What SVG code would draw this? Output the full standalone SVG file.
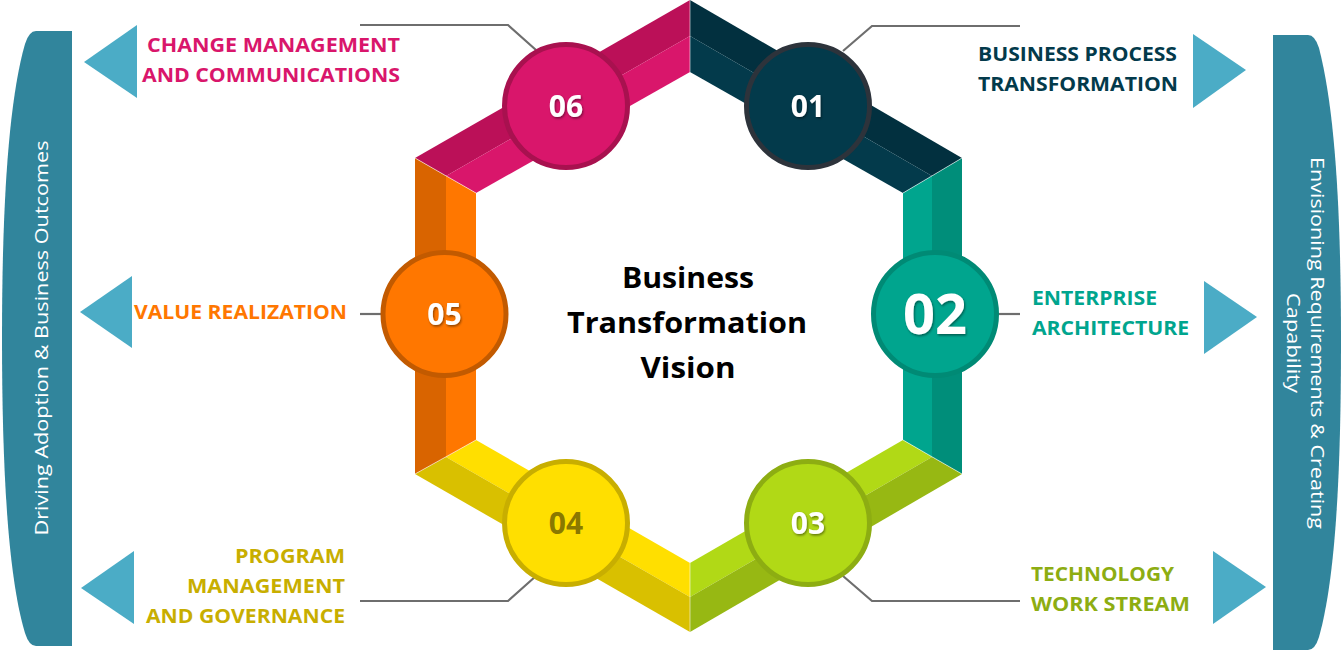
<svg xmlns="http://www.w3.org/2000/svg" width="1344" height="651" viewBox="0 0 1344 651">
<defs>
<style>
.lbl{font-family:"Open Sans","Liberation Sans",sans-serif;font-weight:bold;font-size:20px}
.num{font-family:"Open Sans","Liberation Sans",sans-serif;font-weight:bold;font-size:30px;text-anchor:middle;fill:#fff}
.ctr{font-family:"Open Sans","Liberation Sans",sans-serif;font-weight:bold;font-size:28px;text-anchor:middle;fill:#000}
.side{font-family:"Open Sans","Liberation Sans",sans-serif;font-size:18px;fill:#fff;text-anchor:middle}
.tri{fill:#4BACC6}
.bar{fill:#31859C}
.conn{fill:none;stroke:#6E6E6E;stroke-width:2.2}
.seam{stroke:#ffffff;stroke-width:0.8;stroke-opacity:0.7}
</style>
<filter id="sh" x="-20%" y="-20%" width="140%" height="140%">
<feDropShadow dx="1" dy="1.5" stdDeviation="1" flood-color="#000" flood-opacity="0.45"/>
</filter>
</defs>
<rect width="1344" height="651" fill="#fff"/>

<g id="left-bar">
<path class="bar" d="M72,31 H36 Q29,31 25,44 C9,100 2,200 2,338 C2,480 9,580 25,633 Q29,646 36,646 H72 Z"/>
<text class="side" transform="translate(42,338) rotate(-90)" x="0" y="6" textLength="395" lengthAdjust="spacingAndGlyphs">Driving Adoption &amp; Business Outcomes</text>
</g>
<g id="right-bar">
<path class="bar" d="M1273,35 H1308 Q1315,35 1319,48 C1335,110 1341,210 1341,342 C1341,480 1335,580 1319,637 Q1315,650 1308,650 H1273 Z"/>
<text class="side" transform="translate(1311,343) rotate(90)" x="0" y="0" textLength="372" lengthAdjust="spacingAndGlyphs">Envisioning Requirements &amp; Creating</text>
<text class="side" transform="translate(1311,343) rotate(90)" x="0" y="24" textLength="100" lengthAdjust="spacingAndGlyphs">Capability</text>
</g>

<g id="arrows">
<polygon class="tri" points="84,62 137,25 137,98"/>
<polygon class="tri" points="80,312 132,276 132,348"/>
<polygon class="tri" points="81,588 134,551 134,624"/>
<polygon class="tri" points="1193,34 1193,108 1246,70"/>
<polygon class="tri" points="1204,281 1204,354 1257,317"/>
<polygon class="tri" points="1213,551 1213,624 1266,587"/>
</g>

<g id="hexagon">
<polygon fill="#BB1058" points="415,158 690,0 690,36 446,176"/>
<polygon fill="#D9166B" points="446,176 690,36 690,72 476,193"/>
<polygon fill="#02303F" points="690,0 962,158 932,176 690,36"/>
<polygon fill="#033A4B" points="690,36 932,176 903,193 690,72"/>
<polygon fill="#00A58E" points="903,193 932,176 932,457 903,440"/>
<polygon fill="#008E7A" points="932,176 962,158 962,474 932,457"/>
<polygon fill="#B1D916" points="903,440 932,457 690,597 690,563"/>
<polygon fill="#97B813" points="932,457 962,474 690,632 690,597"/>
<polygon fill="#FFDF00" points="690,563 476,440 446,457 690,597"/>
<polygon fill="#D9C000" points="690,597 446,457 415,474 690,632"/>
<polygon fill="#D96400" points="415,158 446,176 446,457 415,474"/>
<polygon fill="#FF7700" points="446,176 476,193 476,440 446,457"/>
<line class="seam" x1="690" y1="0" x2="690" y2="72"/>
<line class="seam" x1="962" y1="158" x2="903" y2="193"/>
<line class="seam" x1="962" y1="474" x2="903" y2="440"/>
<line class="seam" x1="690" y1="563" x2="690" y2="632"/>
<line class="seam" x1="415" y1="474" x2="476" y2="440"/>
<line class="seam" x1="415" y1="158" x2="476" y2="193"/>
</g>

<g id="connectors">
<polyline class="conn" points="360,25 508,25 536,50"/>
<polyline class="conn" points="1020,26 872,26 843,51"/>
<line class="conn" x1="998" y1="314" x2="1020" y2="314"/>
<line class="conn" x1="360" y1="314" x2="382" y2="314"/>
<polyline class="conn" points="360,601 508,601 536,576"/>
<polyline class="conn" points="1020,601 872,601 843,576"/>
</g>

<g id="node-06">
<circle cx="566" cy="106" r="61.5" fill="#D9166B" stroke="#A8114F" stroke-width="5"/>
<text class="num" x="566" y="117" filter="url(#sh)">06</text>
</g>
<g id="node-01">
<circle cx="808" cy="106" r="61.5" fill="#033A4B" stroke="#2D333B" stroke-width="5"/>
<text class="num" x="808" y="117" filter="url(#sh)">01</text>
</g>
<g id="node-02">
<circle cx="935" cy="314" r="61.5" fill="#00A58E" stroke="#008A75" stroke-width="5"/>
<text class="num" x="935" y="334" style="font-size:56px" filter="url(#sh)">02</text>
</g>
<g id="node-03">
<circle cx="808" cy="523" r="61.5" fill="#B1D916" stroke="#8DAD12" stroke-width="5"/>
<text class="num" x="808" y="534" filter="url(#sh)">03</text>
</g>
<g id="node-04">
<circle cx="566" cy="523" r="61.5" fill="#FFDF00" stroke="#C8AE00" stroke-width="5"/>
<text class="num" x="566" y="534" style="fill:#8A7800">04</text>
</g>
<g id="node-05">
<circle cx="444.5" cy="314" r="61.5" fill="#FF7700" stroke="#C25A00" stroke-width="5"/>
<text class="num" x="444.5" y="325" filter="url(#sh)">05</text>
</g>

<g id="center-title">
<text class="ctr" x="688" y="288" textLength="132" lengthAdjust="spacingAndGlyphs">Business</text>
<text class="ctr" x="687" y="333" textLength="240" lengthAdjust="spacingAndGlyphs">Transformation</text>
<text class="ctr" x="688" y="378" textLength="95" lengthAdjust="spacingAndGlyphs">Vision</text>
</g>

<g id="labels">
<g fill="#D9166B" text-anchor="end">
<text class="lbl" x="400" y="52" textLength="253" lengthAdjust="spacingAndGlyphs">CHANGE MANAGEMENT</text>
<text class="lbl" x="400" y="82" textLength="258" lengthAdjust="spacingAndGlyphs">AND COMMUNICATIONS</text>
</g>
<text class="lbl" fill="#FF7700" text-anchor="end" x="347" y="319" textLength="213" lengthAdjust="spacingAndGlyphs">VALUE REALIZATION</text>
<g fill="#C8AE00" text-anchor="end">
<text class="lbl" x="345" y="563" textLength="110" lengthAdjust="spacingAndGlyphs">PROGRAM</text>
<text class="lbl" x="345" y="593" textLength="158" lengthAdjust="spacingAndGlyphs">MANAGEMENT</text>
<text class="lbl" x="345" y="623" textLength="199" lengthAdjust="spacingAndGlyphs">AND GOVERNANCE</text>
</g>
<g fill="#033A4B">
<text class="lbl" x="978" y="61" textLength="199" lengthAdjust="spacingAndGlyphs">BUSINESS PROCESS</text>
<text class="lbl" x="978" y="91" textLength="200" lengthAdjust="spacingAndGlyphs">TRANSFORMATION</text>
</g>
<g fill="#00A58E">
<text class="lbl" x="1032" y="305" textLength="125" lengthAdjust="spacingAndGlyphs">ENTERPRISE</text>
<text class="lbl" x="1032" y="335" textLength="157" lengthAdjust="spacingAndGlyphs">ARCHITECTURE</text>
</g>
<g fill="#8DAD12">
<text class="lbl" x="1031" y="581" textLength="143" lengthAdjust="spacingAndGlyphs">TECHNOLOGY</text>
<text class="lbl" x="1031" y="611" textLength="159" lengthAdjust="spacingAndGlyphs">WORK STREAM</text>
</g>
</g>
</svg>
